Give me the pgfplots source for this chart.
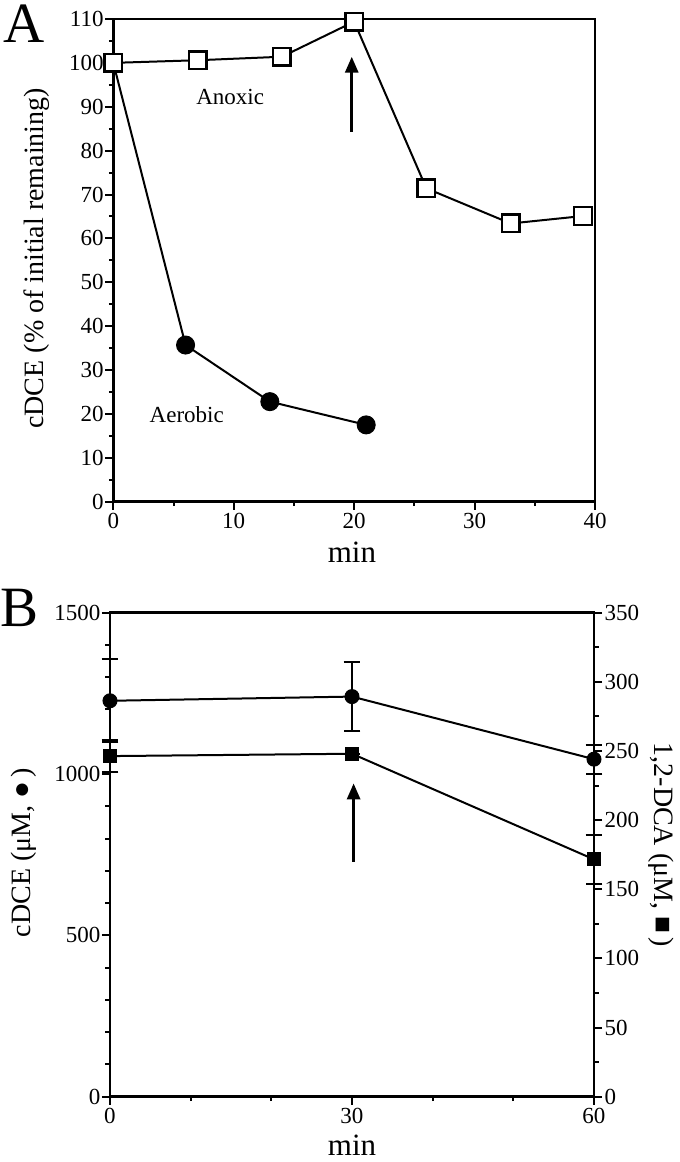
\documentclass[border=0pt]{standalone}
\usepackage{fontspec}
\setmainfont{Liberation Serif}
\usepackage{pgfplots}
\pgfplotsset{compat=1.18}
\usetikzlibrary{arrows.meta}
\begin{document}
\begin{tikzpicture}
\path[use as bounding box] (0,0) rectangle (680pt,1162pt);
\pgfplotsset{
  common/.style={
    scale only axis,
    clip=false,
    axis line style={line width=2.6pt},
    tick style={line width=2pt, black},
    tick align=outside,
    major tick length=8pt,
    minor tick length=4.5pt,
    xtick pos=bottom, ytick pos=left,
    /pgf/number format/assume math mode=true,
    /pgf/number format/1000 sep={},
    tick label style={font=\fontsize{23}{25}\selectfont},
    yticklabel style={inner sep=1.5pt},
    xticklabel style={inner sep=3pt},
    ylabel style={font=\fontsize{28}{32}\selectfont},
    xlabel style={font=\fontsize{31}{34}\selectfont},
    every axis plot/.append style={line width=2pt, black},
  }
}
% ---------------- Panel A ----------------
\begin{axis}[common, at={(113.3pt,660.3pt)}, anchor=south west,
  width=481.7pt, height=482.7pt,
  xmin=0, xmax=40, ymin=0, ymax=110,
  xtick={0,10,20,30,40}, minor xtick={5,15,25,35},
  ytick={0,10,...,110}, minor ytick={5,15,...,105},
  xlabel={min}, ylabel={cDCE (\% of initial remaining)},
  xlabel style={at={(axis description cs:0.4955,-0.104)}, anchor=center},
  ylabel style={at={(axis description cs:-0.16,0.504)}, anchor=center},
]
\addplot[mark=*, mark size=9pt, mark options={line width=1pt, fill=black}]
  coordinates {(0,100) (6,35.7) (13,22.8) (21,17.5)};
\addplot[mark=square*, mark size=8.8pt, mark options={line width=2.4pt, fill=white}]
  coordinates {(0,100) (7,100.6) (14,101.4) (20,109.4) (26,71.4) (33,63.4) (39,65.1)};
\draw[line width=3pt, -{Triangle[width=13pt,length=16pt]}] (axis cs:19.8,84.3) -- (axis cs:19.8,101.4);
\node[font=\fontsize{23}{25}\selectfont] at (axis cs:9.7,92.3) {Anoxic};
\node[font=\fontsize{23}{25}\selectfont] at (axis cs:6.1,19.8) {Aerobic};
\node[font=\fontsize{57}{60}\selectfont] at (axis description cs:-0.185,0.99) {A};
\end{axis}
% ---------------- Panel B (left axis) ----------------
\begin{axis}[common, at={(110pt,65.3pt)}, anchor=south west,
  width=484pt, height=484pt,
  xmin=0, xmax=60, ymin=0, ymax=1500,
  xtick={0,30,60}, minor xtick={10,20,40,50},
  ytick={0,500,1000,1500}, minor ytick={100,200,...,1400},
  xlabel={min}, ylabel={cDCE (μM, ●\,)},
  xlabel style={at={(axis description cs:0.5,-0.1)}, anchor=center},
  ylabel style={at={(axis description cs:-0.178,0.5045)}, anchor=center},
]
\addplot[mark=*, mark size=7pt, mark options={line width=1pt, fill=black},
  error bars/.cd, y dir=both, y explicit,
  error bar style={line width=2pt, black},
  error mark options={rotate=90, mark size=8.3pt, line width=2pt, black}]
  coordinates {(0,1227) +- (0,128) (30,1240) +- (0,108) (60,1046) +- (0,45)};
\draw[line width=3pt, -{Triangle[width=13pt,length=16pt]}] (axis cs:30.2,728) -- (axis cs:30.2,971);
\node[font=\fontsize{57}{60}\selectfont] at (axis description cs:-0.186,1.01) {B};
\end{axis}
% ---------------- Panel B (right axis) ----------------
\begin{axis}[common, at={(110pt,65.3pt)}, anchor=south west,
  width=484pt, height=484pt,
  xmin=0, xmax=60, ymin=0, ymax=350,
  hide x axis, axis y line*=right, ytick pos=right,
  ytick={0,50,...,350}, minor ytick={25,75,...,325},
  ylabel={1,2-DCA (μM, ■\,)},
  yticklabel style={inner sep=2.5pt},
  ylabel style={at={(axis description cs:1.138,0.52)}, anchor=center, rotate=180},
]
\addplot[mark=square*, mark size=6.5pt, mark options={line width=1pt, fill=black},
  error bars/.cd, y dir=both, y explicit,
  error bar style={line width=2pt, black},
  error mark options={rotate=90, mark size=8.3pt, line width=2pt, black}]
  coordinates {(0,246.3) +- (0,11.6) (30,248) +- (0,0) (60,171.6) +- (0,18)};
\end{axis}
\end{tikzpicture}
\end{document}
